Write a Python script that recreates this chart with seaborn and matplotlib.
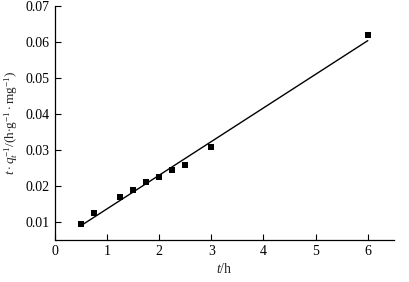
import numpy as np
import pandas as pd
import seaborn as sns
import matplotlib
matplotlib.use('Agg')
import matplotlib.pyplot as plt

# time (h) and t/qt values
t_h = [0.5, 0.75, 1.25, 1.5, 1.75, 2.0, 2.25, 2.5, 3.0, 6.0]
t_qt = [0.0093, 0.0125, 0.0170, 0.0188, 0.0210, 0.0224, 0.0243, 0.0259, 0.0308, 0.0618]

data = pd.DataFrame({'t': t_h, 'tq': t_qt})

sns.set_style('ticks')
plt.rcParams['font.family'] = ['Liberation Serif', 'DejaVu Serif']
plt.rcParams['mathtext.fontset'] = 'custom'
plt.rcParams['mathtext.rm'] = 'Liberation Serif'
plt.rcParams['mathtext.it'] = 'Liberation Serif:italic'

fig = plt.figure(figsize=(4.09, 2.82), dpi=100)
ax = fig.add_axes([0.134, 0.149, 0.829, 0.83])

sns.regplot(x='t', y='tq', data=data, ax=ax, ci=None, marker='s',
            scatter_kws={'color': 'black', 's': 20, 'linewidths': 0, 'alpha': 1},
            line_kws={'color': 'black', 'lw': 1.0})

ax.set_xlim(0, 6.5)
ax.set_ylim(0.005, 0.07)
ax.set_xticks([0, 1, 2, 3, 4, 5, 6])
ax.set_yticks([0.01, 0.02, 0.03, 0.04, 0.05, 0.06, 0.07])
ax.set_yticklabels(['0.01', '0.02', '0.03', '0.04', '0.05', '0.06', '0.07'])
ax.tick_params(direction='in', length=4, width=0.8, labelsize=10, colors='black')
for s in ['top', 'right']:
    ax.spines[s].set_visible(False)
for s in ['left', 'bottom']:
    ax.spines[s].set_linewidth(0.9)
    ax.spines[s].set_color('black')

ax.set_xlabel(r'$t$/h', fontsize=10, labelpad=3)
ax.set_ylabel(r'$t\cdot q_t^{-1}$/(h$\cdot$g$^{-1}\cdot$mg$^{-1}$)', fontsize=9.5, labelpad=4)

fig.savefig('out.png', dpi=100)
